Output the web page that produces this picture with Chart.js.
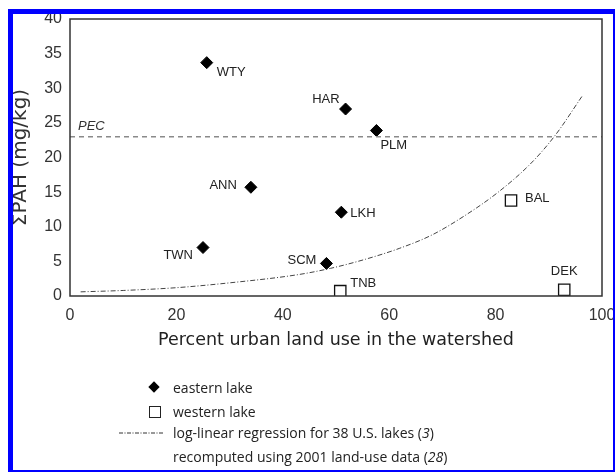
<!DOCTYPE html>
<html>
<head>
<meta charset="utf-8">
<script src="https://cdn.jsdelivr.net/npm/chart.js@4.4.1/dist/chart.umd.min.js"></script>
<style>
  html, body { margin: 0; padding: 0; background: #fff; }
  #wrap { position: relative; width: 615px; height: 472px; overflow: hidden; }
  #chart { position: absolute; left: 0; top: 0; }
  #frame {
    position: absolute; left: 8px; top: 9px; width: 607px; height: 463px;
    box-sizing: border-box; border-style: solid; border-color: #0000ff;
    border-width: 5px 2px 2px 5px; pointer-events: none;
  }
  .leg { position: absolute; left: 173px; font: 14px "Open Sans", sans-serif; color: #222; line-height: 18px; white-space: nowrap; }
  .mk { position: absolute; }
</style>
</head>
<body>
<div id="wrap">
  <canvas id="chart" width="615" height="472"></canvas>

  <!-- legend -->
  <div class="mk" style="left:150px;top:383px;width:8px;height:8px;background:#000;transform:rotate(45deg);"></div>
  <div class="leg" style="top:379px;">eastern lake</div>
  <div class="mk" style="left:149px;top:406px;width:10px;height:10px;border:1px solid #222;background:#fff;"></div>
  <div class="leg" style="top:403px;">western lake</div>
  <svg class="mk" style="left:118px;top:428px;" width="48" height="10">
    <line x1="1" y1="5" x2="46" y2="5" stroke="#333" stroke-width="1" stroke-dasharray="4,1.5,1,1.5"/>
  </svg>
  <div class="leg" style="top:424px;">log-linear regression for 38 U.S. lakes (<i>3</i>)</div>
  <div class="leg" style="top:448px;">recomputed using 2001 land-use data (<i>28</i>)</div>

  <div id="frame"></div>
</div>
<script>
// eastern lakes (filled diamonds)
const eastNames = ['WTY', 'HAR', 'PLM', 'ANN', 'LKH', 'TWN', 'SCM'];
const eastUrban = [25.7, 51.8, 57.6, 34.0, 51.0, 25.0, 48.2];
const eastPAH = [33.7, 27.0, 23.9, 15.7, 12.1, 7.0, 4.7];

// western lakes (open squares)
const westNames = ['TNB', 'BAL', 'DEK'];
const westUrban = [50.8, 82.9, 92.9];
const westPAH = [0.7, 13.8, 0.9];

// log-linear regression curve
const regUrban = [2, 10, 20, 30, 43, 49, 55.5, 62, 68, 74, 80.5, 86.7, 91.2, 96.3];
const regPAH = [0.6, 0.8, 1.2, 1.9, 3.1, 4.0, 5.3, 6.9, 8.8, 11.5, 15.0, 19.2, 23.2, 28.9];

// probable effect concentration
const pecValue = 23;
const pecSpan = [0, 100];

const xTicks = [0, 20, 40, 60, 80, 100];
const yTicks = [0, 5, 10, 15, 20, 25, 30, 35, 40];

// where each name sits relative to its marker: [dx, dy, align]
const labelPlace = {
  WTY: [10, 10, 'left'], HAR: [-6, -10, 'right'], PLM: [4, 15, 'left'],
  ANN: [-14, -2, 'right'], LKH: [9, 1, 'left'], TWN: [-10, 8, 'right'],
  SCM: [-10, -3, 'right'], TNB: [10, -8, 'left'], BAL: [14, -2, 'left'],
  DEK: [0, -18, 'center']
};

const toXY = (xs, ys) => xs.map((x, i) => ({ x: x, y: ys[i] }));

// draws the plot frame, point names and PEC tag
const annotate = {
  id: 'annotate',
  afterDatasetsDraw(chart) {
    const { ctx, chartArea: a, scales: { x, y } } = chart;
    ctx.save();
    ctx.strokeStyle = '#333';
    ctx.lineWidth = 1.5;
    ctx.strokeRect(a.left, a.top, a.right - a.left, a.bottom - a.top);

    ctx.fillStyle = '#222';
    ctx.font = '13px "Liberation Sans", Arial, sans-serif';
    ctx.textBaseline = 'middle';
    const put = (names, xs, ys) => names.forEach((n, i) => {
      const p = labelPlace[n];
      ctx.textAlign = p[2];
      ctx.fillText(n, x.getPixelForValue(xs[i]) + p[0], y.getPixelForValue(ys[i]) + p[1]);
    });
    put(eastNames, eastUrban, eastPAH);
    put(westNames, westUrban, westPAH);

    ctx.font = 'italic 13px "Liberation Sans", Arial, sans-serif';
    ctx.textAlign = 'left';
    ctx.fillStyle = '#333';
    ctx.fillText('PEC', a.left + 8, y.getPixelForValue(pecValue) - 10);
    ctx.restore();
  }
};

new Chart(document.getElementById('chart'), {
  type: 'scatter',
  data: {
    datasets: [
      {
        label: 'PEC',
        type: 'line',
        data: toXY(pecSpan, [pecValue, pecValue]),
        borderColor: '#8a8a8a',
        borderWidth: 1.5,
        borderDash: [5, 4],
        pointRadius: 0,
        fill: false
      },
      {
        label: 'log-linear regression',
        type: 'line',
        data: toXY(regUrban, regPAH),
        borderColor: '#444',
        borderWidth: 1,
        borderDash: [5, 2, 1, 2],
        pointRadius: 0,
        cubicInterpolationMode: 'monotone',
        fill: false
      },
      {
        label: 'eastern lake',
        data: toXY(eastUrban, eastPAH),
        pointStyle: 'rectRot',
        pointRadius: 6,
        backgroundColor: '#000',
        borderColor: '#000',
        borderWidth: 1
      },
      {
        label: 'western lake',
        data: toXY(westUrban, westPAH),
        pointStyle: 'rect',
        pointRadius: 8,
        backgroundColor: '#fff',
        borderColor: '#111',
        borderWidth: 1.3
      }
    ]
  },
  options: {
    responsive: false,
    animation: false,
    layout: { padding: { top: 19, right: 13, bottom: 116, left: 0 } },
    plugins: {
      legend: { display: false },
      tooltip: { enabled: false }
    },
    scales: {
      x: {
        type: 'linear',
        min: 0,
        max: 100,
        afterFit: s => { s.height = 60; s.paddingLeft = 0; s.paddingRight = 0; },
        afterBuildTicks: s => { s.ticks = xTicks.map(v => ({ value: v })); },
        grid: { display: false, drawTicks: false },
        border: { display: false },
        ticks: {
          padding: 10,
          color: '#333',
          font: { family: '"Liberation Sans", Arial, sans-serif', size: 16 }
        },
        title: {
          display: true,
          text: 'Percent urban land use in the watershed',
          color: '#222',
          padding: { top: 0, bottom: 5 },
          font: { family: '"DejaVu Sans", sans-serif', size: 17.5 }
        }
      },
      y: {
        type: 'linear',
        min: 0,
        max: 40,
        afterFit: s => { s.width = 70; s.paddingTop = 0; s.paddingBottom = 0; },
        afterBuildTicks: s => { s.ticks = yTicks.map(v => ({ value: v })); },
        grid: { display: false, drawTicks: false },
        border: { display: false },
        ticks: {
          padding: 8,
          color: '#333',
          font: { family: '"Liberation Sans", Arial, sans-serif', size: 16 }
        },
        title: {
          display: true,
          text: 'ΣPAH (mg/kg)',
          color: '#333',
          padding: { top: 9, bottom: 0 },
          font: { family: '"DejaVu Sans", sans-serif', size: 20 }
        }
      }
    }
  },
  plugins: [annotate]
});
</script>
</body>
</html>
